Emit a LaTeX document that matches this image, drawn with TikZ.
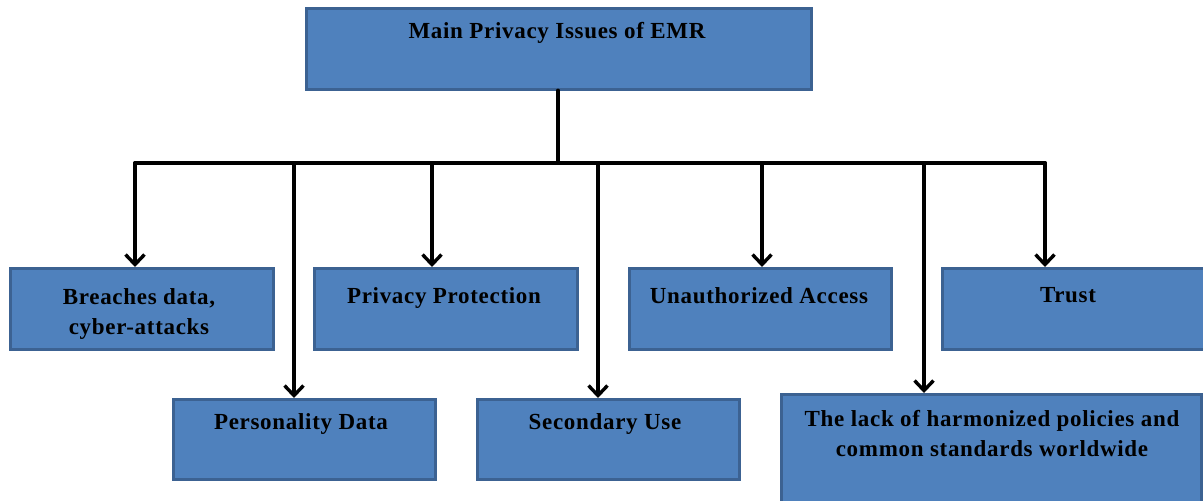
\documentclass[tikz,border=0pt]{standalone}
\usepackage{fontspec}
\setmainfont{Liberation Serif}[LetterSpace=3]
\usetikzlibrary{arrows.meta}
\definecolor{boxfill}{HTML}{4F81BD}
\definecolor{boxedge}{HTML}{3C6292}
\begin{document}
\begin{tikzpicture}[x=1pt,y=-1pt,
  issue/.style={draw=boxedge,fill=boxfill,line width=2.5pt,rectangle,inner sep=0pt,anchor=north west},
  label/.style={anchor=north,inner sep=0pt,align=center,
    font=\fontsize{23}{30}\selectfont\bfseries},
  wire/.style={line width=3.8pt,line join=round,line cap=round},
  feed/.style={wire,-{Straight Barb[length=10pt,width=19pt,line width=3.4pt]}}]
\useasboundingbox (0,0) rectangle (1203,501);

% boxes: placed by their top left corner
\node[issue,minimum width=505pt,minimum height=81pt] (top) at (305,7) {};
\node[issue,minimum width=263pt,minimum height=81pt] (breach) at (9,267) {};
\node[issue,minimum width=263pt,minimum height=81pt] (protect) at (313,267) {};
\node[issue,minimum width=262pt,minimum height=81pt] (unauth) at (628,267) {};
\node[issue,minimum width=262pt,minimum height=81pt] (trust) at (941,267) {};
\node[issue,minimum width=262pt,minimum height=80pt] (person) at (172,398) {};
\node[issue,minimum width=262pt,minimum height=80pt] (second) at (476,398) {};
\node[issue,minimum width=420pt,minimum height=108pt] (lack) at (780,393) {};

% texts, set in the upper part of each box
\node[label] (ttop) at (557,22) {Main Privacy Issues of EMR};
\node[label] (tbreach) at (139,288) {Breaches data,\\cyber-attacks};
\node[label] (tprotect) at (444,287) {Privacy Protection};
\node[label] (tunauth) at (759,287) {Unauthorized Access};
\node[label] (ttrust) at (1068,287) {Trust};
\node[label] (tperson) at (301,413) {Personality Data};
\node[label] (tsecond) at (605,413) {Secondary Use};
\node[label] (tlack) at (992,410) {The lack of harmonized policies and\\common standards worldwide};

% bus line and its drop points
\coordinate (bus) at (558,163);
\coordinate (c1) at (135,163);
\coordinate (c2) at (294,163);
\coordinate (c3) at (432,163);
\coordinate (c4) at (598,163);
\coordinate (c5) at (762,163);
\coordinate (c6) at (924,163);
\coordinate (c7) at (1045,163);

\draw[wire] (top.south -| bus) -- (bus);
\draw[wire] (c1) -- (c7);
\draw[feed] (c1) -- (c1 |- breach.north);
\draw[feed] (c2) -- (c2 |- person.north);
\draw[feed] (c3) -- (c3 |- protect.north);
\draw[feed] (c4) -- (c4 |- second.north);
\draw[feed] (c5) -- (c5 |- unauth.north);
\draw[feed] (c6) -- (c6 |- lack.north);
\draw[feed] (c7) -- (c7 |- trust.north);
\end{tikzpicture}
\end{document}
